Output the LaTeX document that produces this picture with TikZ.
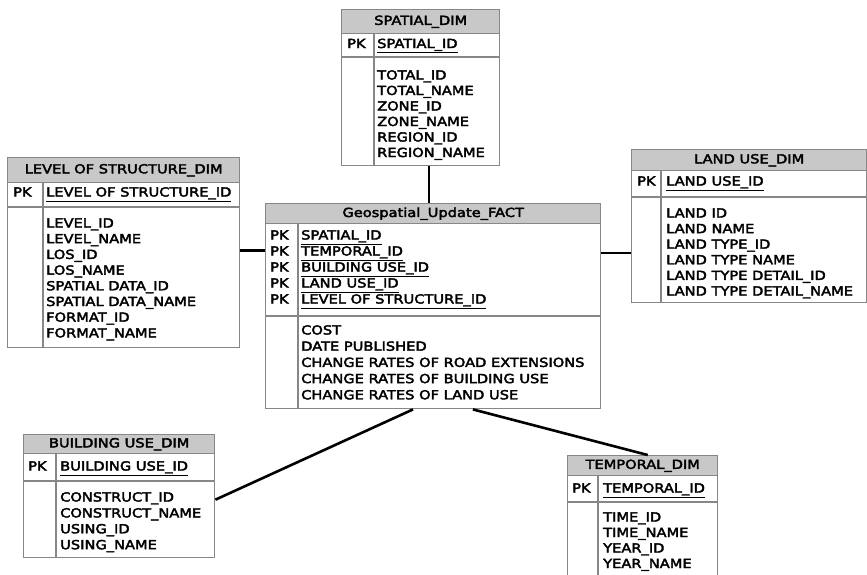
\documentclass[tikz,border=0pt]{standalone}
\usepackage{fontspec}
\setmainfont[FakeStretch=1.17,FakeBold=3]{DejaVu Sans}
\usetikzlibrary{calc}
\definecolor{hdr}{RGB}{200,200,200}
\definecolor{brd}{RGB}{135,135,135}
\newcommand\mktable[9]{%
  \node[box, minimum width={#4-#2}, minimum height={#5-#3}, anchor=north west] (#1) at (#2,#3) {};
  \node[head, minimum width={#4-#2}, minimum height={#6-#3}, anchor=north west] (#1h) at (#2,#3) {#9};
  \draw[rule] (#2,#7) -- (#4,#7);
  \draw[rule] (#8,#6) -- (#8,#5);
}
\begin{document}
\begin{tikzpicture}[x=1pt,y=-1pt,
  box/.style={draw=brd, line width=1.4pt, inner sep=0pt, fill=white},
  head/.style={draw=brd, line width=1.4pt, fill=hdr, inner sep=0pt, font=\fontsize{12.5}{15}\selectfont},
  rule/.style={draw=brd, line width=1.4pt},
  txt/.style={anchor=base west, inner sep=0pt, font=\fontsize{12.5}{15}\selectfont},
  conn/.style={line width=2.6pt, black}]
\useasboundingbox (0,0) rectangle (867,574);
\fill[white] (0,0) rectangle (867,574);

% SPATIAL_DIM
\mktable{sp}{341}{9}{499}{165}{33}{57}{374}{SPATIAL\_DIM}
\node[txt] (sp-pk) at (347,48) {PK};
\node[txt] (sp-k) at (377,48) {\underline{SPATIAL\_ID}};
\foreach \t [count=\i] in {TOTAL\_ID,TOTAL\_NAME,ZONE\_ID,ZONE\_NAME,REGION\_ID,REGION\_NAME}
  \node[txt] (sp-\i) at (377,{79.5+15.5*(\i-1)}) {\t};

% LEVEL OF STRUCTURE_DIM
\mktable{lv}{7}{157}{239}{347}{182}{207}{43}{LEVEL OF STRUCTURE\_DIM}
\node[txt] (lv-pk) at (13,196.5) {PK};
\node[txt] (lv-k) at (46,196.5) {\underline{LEVEL OF STRUCTURE\_ID}};
\foreach \t [count=\i] in {LEVEL\_ID,LEVEL\_NAME,LOS\_ID,LOS\_NAME,SPATIAL DATA\_ID,SPATIAL DATA\_NAME,FORMAT\_ID,FORMAT\_NAME}
  \node[txt] (lv-\i) at (46,{227.5+15.7*(\i-1)}) {\t};

% FACT
\mktable{fa}{265}{203}{600}{408}{223}{316}{298}{Geospatial\_Update\_FACT}
\foreach \t [count=\i] in {SPATIAL\_ID,TEMPORAL\_ID,BUILDING USE\_ID,LAND USE\_ID,LEVEL OF STRUCTURE\_ID}{
  \node[txt] (fa-pk\i) at (270,{239.5+16*(\i-1)}) {PK};
  \node[txt] (fa-k\i) at (301,{239.5+16*(\i-1)}) {\underline{\t}};
}
\foreach \t [count=\i] in {COST,DATE PUBLISHED,CHANGE RATES OF ROAD EXTENSIONS,CHANGE RATES OF BUILDING USE,CHANGE RATES OF LAND USE}
  \node[txt] (fa-\i) at (301,{334.5+16.2*(\i-1)}) {\t};

% LAND USE_DIM
\mktable{ld}{631}{149}{866}{302}{170}{197}{661}{LAND USE\_DIM}
\node[txt] (ld-pk) at (637,185.5) {PK};
\node[txt] (ld-k) at (666,185.5) {\underline{LAND USE\_ID}};
\foreach \t [count=\i] in {LAND ID,LAND NAME,LAND TYPE\_ID,LAND TYPE NAME,LAND TYPE DETAIL\_ID,LAND TYPE DETAIL\_NAME}
  \node[txt] (ld-\i) at (666,{217.5+15.6*(\i-1)}) {\t};

% BUILDING USE_DIM
\mktable{bu}{23}{434}{214}{557}{453}{481}{56}{BUILDING USE\_DIM}
\node[txt] (bu-pk) at (28,470.5) {PK};
\node[txt] (bu-k) at (60,470.5) {\underline{BUILDING USE\_ID}};
\foreach \t [count=\i] in {CONSTRUCT\_ID,CONSTRUCT\_NAME,USING\_ID,USING\_NAME}
  \node[txt] (bu-\i) at (60,{501.5+15.9*(\i-1)}) {\t};

% TEMPORAL_DIM
\mktable{tp}{567}{455}{717}{590}{475}{502}{598}{TEMPORAL\_DIM}
\node[txt] (tp-pk) at (572,492.5) {PK};
\node[txt] (tp-k) at (603,492.5) {\underline{TEMPORAL\_ID}};
\foreach \t [count=\i] in {TIME\_ID,TIME\_NAME,YEAR\_ID,YEAR\_NAME}
  \node[txt] (tp-\i) at (603,{521.5+15.5*(\i-1)}) {\t};

% connectors
\draw[conn] ($(sp.south west)!0.551!(sp.south east)$) coordinate (c1) -- (c1 |- fa.north);
\draw[conn] ($(lv.north east)!0.49!(lv.south east)$) coordinate (c2) -- (c2 -| fa.west);
\draw[conn] ($(ld.north west)!0.673!(ld.south west)$) coordinate (c3) -- (c3 -| fa.east);
\draw[conn] ($(fa.south west)!0.44!(fa.south east)$) -- ($(bu.north east)!0.528!(bu.south east)$);
\draw[conn] ($(fa.south west)!0.618!(fa.south east)$) -- ($(tp.north west)!0.533!(tp.north east)$);
\end{tikzpicture}
\end{document}
